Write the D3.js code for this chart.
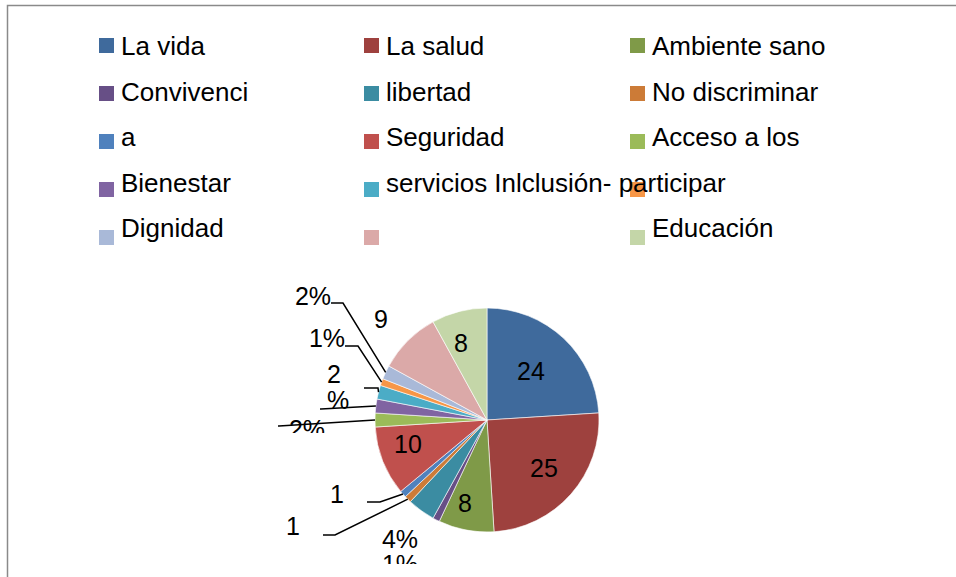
<!DOCTYPE html>
<meta charset="utf-8">
<style>
  body { margin: 0; background: #fff; }
  text { font-family: "Liberation Sans", Arial, sans-serif; fill: #000; }
</style>
<svg width="956" height="577"></svg>
<script src="https://d3js.org/d3.v7.min.js"></script>
<script>

// legend labels, as they appear in the chart (text wraps and overlaps kept)
var categories = ["La vida", "La salud", "Ambiente sano",
                  "Convivenci", "libertad", "No discriminar",
                  "a", "Seguridad", "Acceso a los",
                  "Bienestar", "servicios Inlclusión- participar", "",
                  "Dignidad", "", "Educación"];
var values = [24, 25, 8, 1, 4, 1, 1, 10, 2, 2, 2, 1, 2, 9, 8];
var labels = ["24", "25", "8", "1%", "4%", "1", "1", "10", "2%", "", "2\n%", "1%", "2%", "9", "8"];
var colors = ["#3f6a9c", "#9e413e", "#7f9a48", "#674f86", "#3b8ca2", "#cc7b37",
              "#4f81bd", "#c0504d", "#9bbb59", "#8064a2", "#4bacc6", "#f79646",
              "#a9b9d8", "#dba9a8", "#c4d6a8"];

var svg = d3.select("svg"),
    width = +svg.attr("width"),
    height = +svg.attr("height");

// frame (only top and left edges are visible)
svg.append("path")
    .attr("d", "M7.5," + height + "V5.5H" + width)
    .attr("fill", "none")
    .attr("stroke", "#8a8a8a")
    .attr("stroke-width", 1.5);

// legend
var colX = [99, 364, 630];
var legend = svg.append("g");
legend.selectAll("rect").data(categories).enter().append("rect")
    .attr("x", function(d, i) { return colX[i % 3]; })
    .attr("y", function(d, i) { return 38 + Math.floor(i / 3) * 48; })
    .attr("width", 15).attr("height", 15)
    .attr("fill", function(d, i) { return colors[i]; });
legend.selectAll("text").data(categories).enter().append("text")
    .attr("x", function(d, i) { return colX[i % 3] + 22; })
    .attr("y", function(d, i) { return 55 + Math.floor(i / 3) * 45.5; })
    .style("font-size", "26px")
    .text(function(d) { return d; });

// pie
var cx = 487, cy = 420, r = 112;
var pie = d3.pie().sort(null).value(function(d) { return d; });
var arcs = pie(values);
var arc = d3.arc().innerRadius(0).outerRadius(r);

var g = svg.append("g").attr("transform", "translate(" + cx + "," + cy + ")");
g.selectAll("path").data(arcs).enter().append("path")
    .attr("d", arc)
    .attr("fill", function(d, i) { return colors[i]; })
    .attr("stroke", "#fff")
    .attr("stroke-width", 0.6);

// label placement (absolute x / baseline y), and clip bottom for cut-off labels
var labelPos = [[531, 380], [544, 477], [465, 512], [400, 573], [400, 548],
                [293, 535], [337, 503], [408, 453], [307, 438], [0, 0],
                [327, 383], [327, 347], [313, 305], [381, 328], [461, 352]];
var labelAnchor = ["middle", "middle", "middle", "middle", "middle", "middle", "middle", "middle",
                   "middle", "middle", "start", "middle", "middle", "middle", "middle"];
var labelClip = {8: 433};

// leader lines: start and elbow, ending on the slice rim
var leaders = {5: [[323, 535], [335, 535]], 6: [[367, 502], [380, 502]],
               8: [[278, 426], [279, 426]], 9: [[320, 409], [321, 409]],
               10: [[364, 388], [378, 388]], 11: [[345, 346], [358, 346]],
               12: [[331, 303], [343, 303]]};

var defs = svg.append("defs");
defs.append("clipPath").attr("id", "plotclip")
  .append("rect").attr("x", 0).attr("y", 0).attr("width", width).attr("height", 564);
Object.keys(labelClip).forEach(function(k) {
  defs.append("clipPath").attr("id", "lc" + k)
    .append("rect").attr("x", 0).attr("y", 0).attr("width", width).attr("height", labelClip[k]);
});

var lab = svg.append("g").attr("clip-path", "url(#plotclip)");

Object.keys(leaders).forEach(function(k) {
  var a = arcs[k], mid = (a.startAngle + a.endAngle) / 2;
  var end = [cx + r * Math.sin(mid), cy - r * Math.cos(mid)];
  var pts = leaders[k].concat([end]);
  lab.append("path")
      .attr("d", d3.line()(pts))
      .attr("fill", "none")
      .attr("stroke", "#000")
      .attr("stroke-width", 1.5);
});

labels.forEach(function(t, i) {
  if (!t) return;
  var txt = lab.append("text")
      .attr("x", labelPos[i][0])
      .attr("y", labelPos[i][1])
      .attr("text-anchor", labelAnchor[i])
      .style("font-size", "25px");
  if (labelClip[i]) txt.attr("clip-path", "url(#lc" + i + ")");
  t.split("\n").forEach(function(line, j) {
    txt.append("tspan").attr("x", labelPos[i][0]).attr("dy", j ? 26 : 0).text(line);
  });
});

</script>
